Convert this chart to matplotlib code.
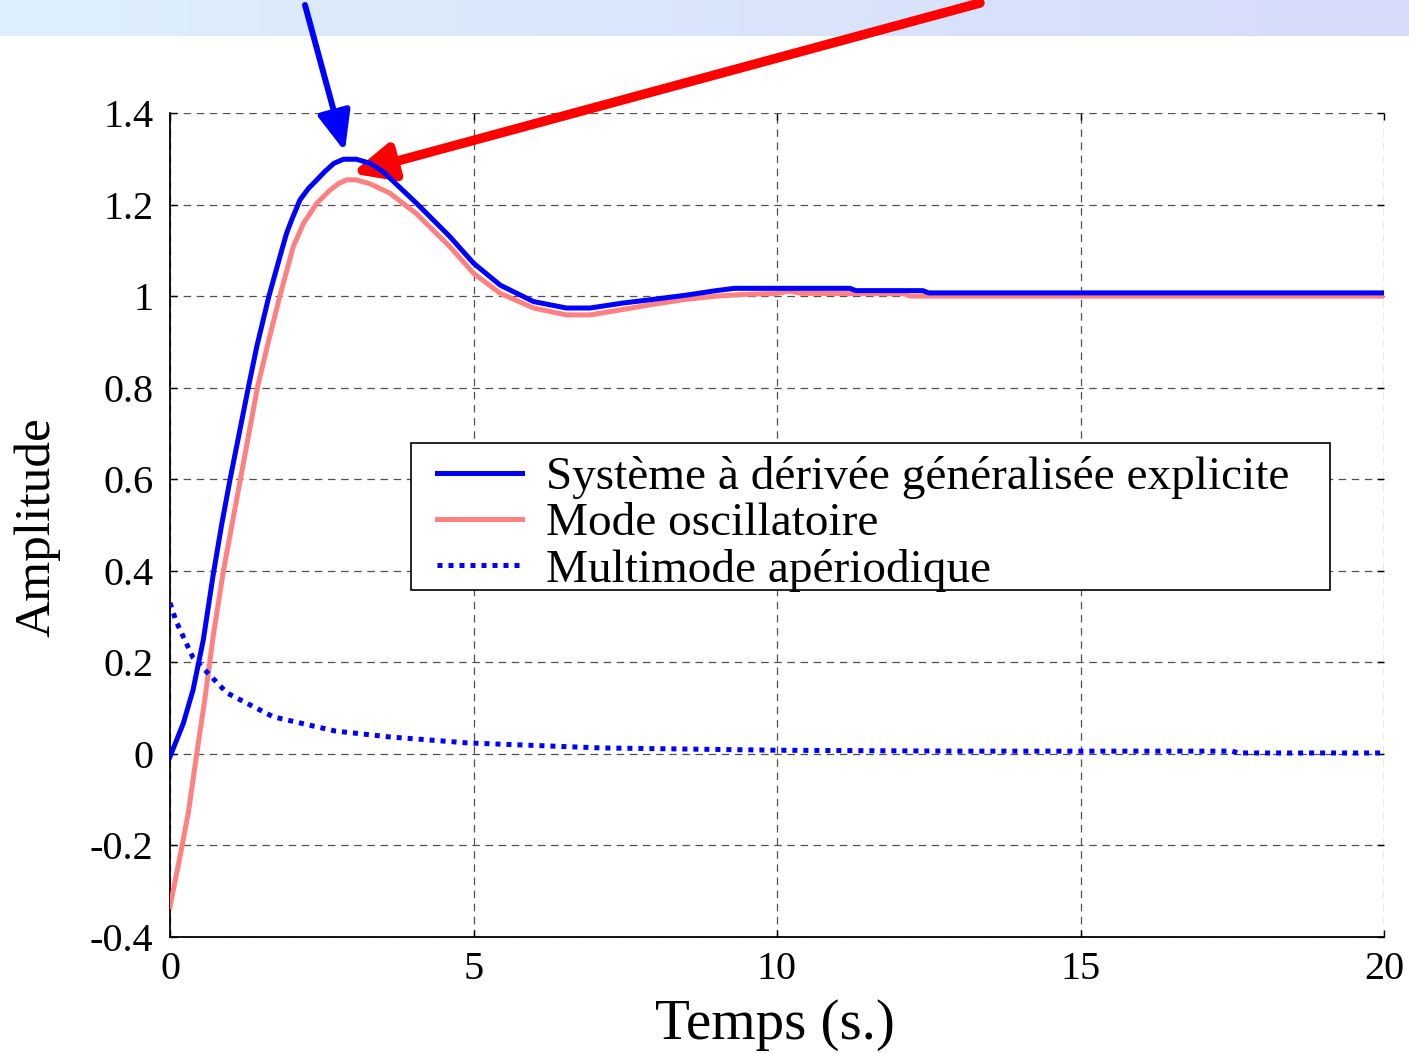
import numpy as np
import matplotlib
matplotlib.use("Agg")
import matplotlib.pyplot as plt
from matplotlib.patches import Rectangle

plt.rcParams['font.family'] = ['Liberation Serif', 'DejaVu Serif']

# réponse du système à dérivée généralisée explicite
t_sys = [0, 0.22, 0.38, 0.55, 0.71, 0.85, 0.99, 1.14, 1.29, 1.43, 1.63, 1.84,
         1.92, 2.0, 2.14, 2.28, 2.42, 2.55, 2.7, 2.86, 3.07, 3.3, 3.51, 4.06, 4.61,
         5.0, 5.44, 5.99, 6.53, 6.92, 7.47, 7.91, 8.5, 9.0, 9.3, 11.2, 11.3, 12.4, 12.5, 20]
y_sys = [-0.006, 0.067, 0.14, 0.25, 0.39, 0.5, 0.6, 0.7, 0.8, 0.89, 1.0, 1.10,
         1.137, 1.165, 1.21, 1.235, 1.254, 1.272, 1.29, 1.299, 1.299, 1.29, 1.272, 1.203, 1.13,
         1.072, 1.024, 0.988, 0.974, 0.974, 0.985, 0.992, 1.002, 1.012, 1.017, 1.017, 1.012, 1.012, 1.007, 1.007]

# mode oscillatoire
t_osc = [0, 0.165, 0.3, 0.44, 0.58, 0.71, 0.88, 1.02, 1.16, 1.3, 1.44, 1.62, 1.81,
         2.03, 2.2, 2.42, 2.64, 2.78, 2.91, 3.07, 3.3, 3.62, 4.06, 4.61, 5.0, 5.44, 5.99,
         6.53, 6.92, 7.47, 7.91, 8.5, 9.0, 9.5, 10.0, 10.2, 10.4, 12.1, 12.2, 20]
y_osc = [-0.334, -0.224, -0.13, 0.0, 0.125, 0.256, 0.4, 0.5, 0.6, 0.7, 0.8, 0.9, 1.0,
         1.108, 1.159, 1.203, 1.232, 1.246, 1.254, 1.254, 1.245, 1.225, 1.18, 1.108, 1.05, 1.006, 0.974,
         0.959, 0.959, 0.971, 0.981, 0.993, 1.0, 1.004, 1.006, 1.011, 1.006, 1.005, 1.0, 1.0]

# multimode apériodique
t_ape = [0, 0.1, 0.38, 0.94, 1.7, 2.72, 3.62, 4.9, 7.1, 10, 13, 17.5, 17.6, 20]
y_ape = [0.33, 0.29, 0.21, 0.133, 0.081, 0.05, 0.037, 0.024, 0.013, 0.008, 0.006, 0.006, 0.002, 0.002]

labels = ['Système à dérivée généralisée explicite',
          'Mode oscillatoire',
          'Multimode apériodique']

xticks = [0, 5, 10, 15, 20]
yticks = [-0.4, -0.2, 0, 0.2, 0.4, 0.6, 0.8, 1, 1.2, 1.4]
ytick_labels = ['-0.4', '-0.2', '0', '0.2', '0.4', '0.6', '0.8', '1', '1.2', '1.4']

W, H = 1409, 1053
fig = plt.figure(figsize=(W / 100, H / 100), dpi=100)

# bandeau dégradé en haut
band = fig.add_axes([0, 1 - 36 / H, 1, 36 / H], zorder=0)
grad = np.linspace(0, 1, 256)
c0 = np.array([0.87, 0.94, 0.99])
c1 = np.array([0.84, 0.86, 0.98])
img = (c0[None, :] * (1 - grad[:, None]) + c1[None, :] * grad[:, None])[None, :, :]
band.imshow(img, aspect='auto', extent=[0, 1, 0, 1])
band.axis('off')

ax = fig.add_axes([170 / W, 1 - 937 / H, (1384 - 170) / W, (937 - 113) / H], zorder=1)

l1, = ax.plot(t_sys, y_sys, color='#0000ff', lw=3.6, zorder=4)
l2, = ax.plot(t_osc, y_osc, color='#ff8080', lw=3.6, zorder=3)
l3, = ax.plot(t_ape, y_ape, color='#0000ff', lw=3.6, linestyle=(0, (1, 1.2)), zorder=3)

ax.set_xlim(0, 20)
ax.set_ylim(-0.4, 1.4)
ax.set_xticks(xticks)
ax.set_xticklabels([str(v) for v in xticks])
ax.set_yticks(yticks)
ax.set_yticklabels(ytick_labels)

ax.grid(True, color='#505050', linestyle=(0, (6, 4.5)), lw=0.9)
ax.spines['top'].set_visible(False)
ax.spines['right'].set_visible(False)
for s in ('left', 'bottom'):
    ax.spines[s].set_linewidth(1.3)
ax.tick_params(direction='in', length=5, width=1, top=True, right=True,
               labelsize=29, pad=10)
ax.tick_params(axis='y', pad=12)

ax.set_xlabel('Temps (s.)', fontsize=41)
ax.xaxis.label.set_va('center')
ax.xaxis.set_label_coords((775 - 170) / 1214, -(1025 - 937) / 824)
ax.set_ylabel('Amplitude', fontsize=37)
ax.yaxis.label.set_va('center')
ax.yaxis.set_label_coords((37 - 170) / 1214, (937 - 527) / 824)

# cadre de la légende
frame = Rectangle((411 / W, 1 - 590 / H), (1330 - 411) / W, (590 - 443) / H,
                  transform=fig.transFigure, facecolor='white', edgecolor='black',
                  lw=1.2, zorder=2)
fig.add_artist(frame)

leg = fig.legend([l1, l2, l3], labels, loc='upper left',
                 bbox_to_anchor=(437 / W, 1 - 456 / H), bbox_transform=fig.transFigure,
                 borderaxespad=0, borderpad=0, fontsize=34, frameon=False,
                 handlelength=1.8, handletextpad=0.5, labelspacing=0.07)
leg.set_zorder(3)

# flèches vers les dépassements
ax.annotate('', xy=(2.88, 1.316), xycoords='data', xytext=(305, H - 5),
            textcoords='figure pixels', annotation_clip=False,
            arrowprops=dict(arrowstyle='-|>,head_length=24,head_width=10',
                            mutation_scale=1, color='#0000ff', lw=4.3,
                            shrinkA=0, shrinkB=0))
ax.annotate('', xy=(2.99, 1.268), xycoords='data', xytext=(980, H - 3),
            textcoords='figure pixels', annotation_clip=False,
            arrowprops=dict(arrowstyle='-|>,head_length=24,head_width=11',
                            mutation_scale=1, color='#ff0000', lw=6.8,
                            shrinkA=0, shrinkB=0))

fig.savefig('out.png', dpi=100)
